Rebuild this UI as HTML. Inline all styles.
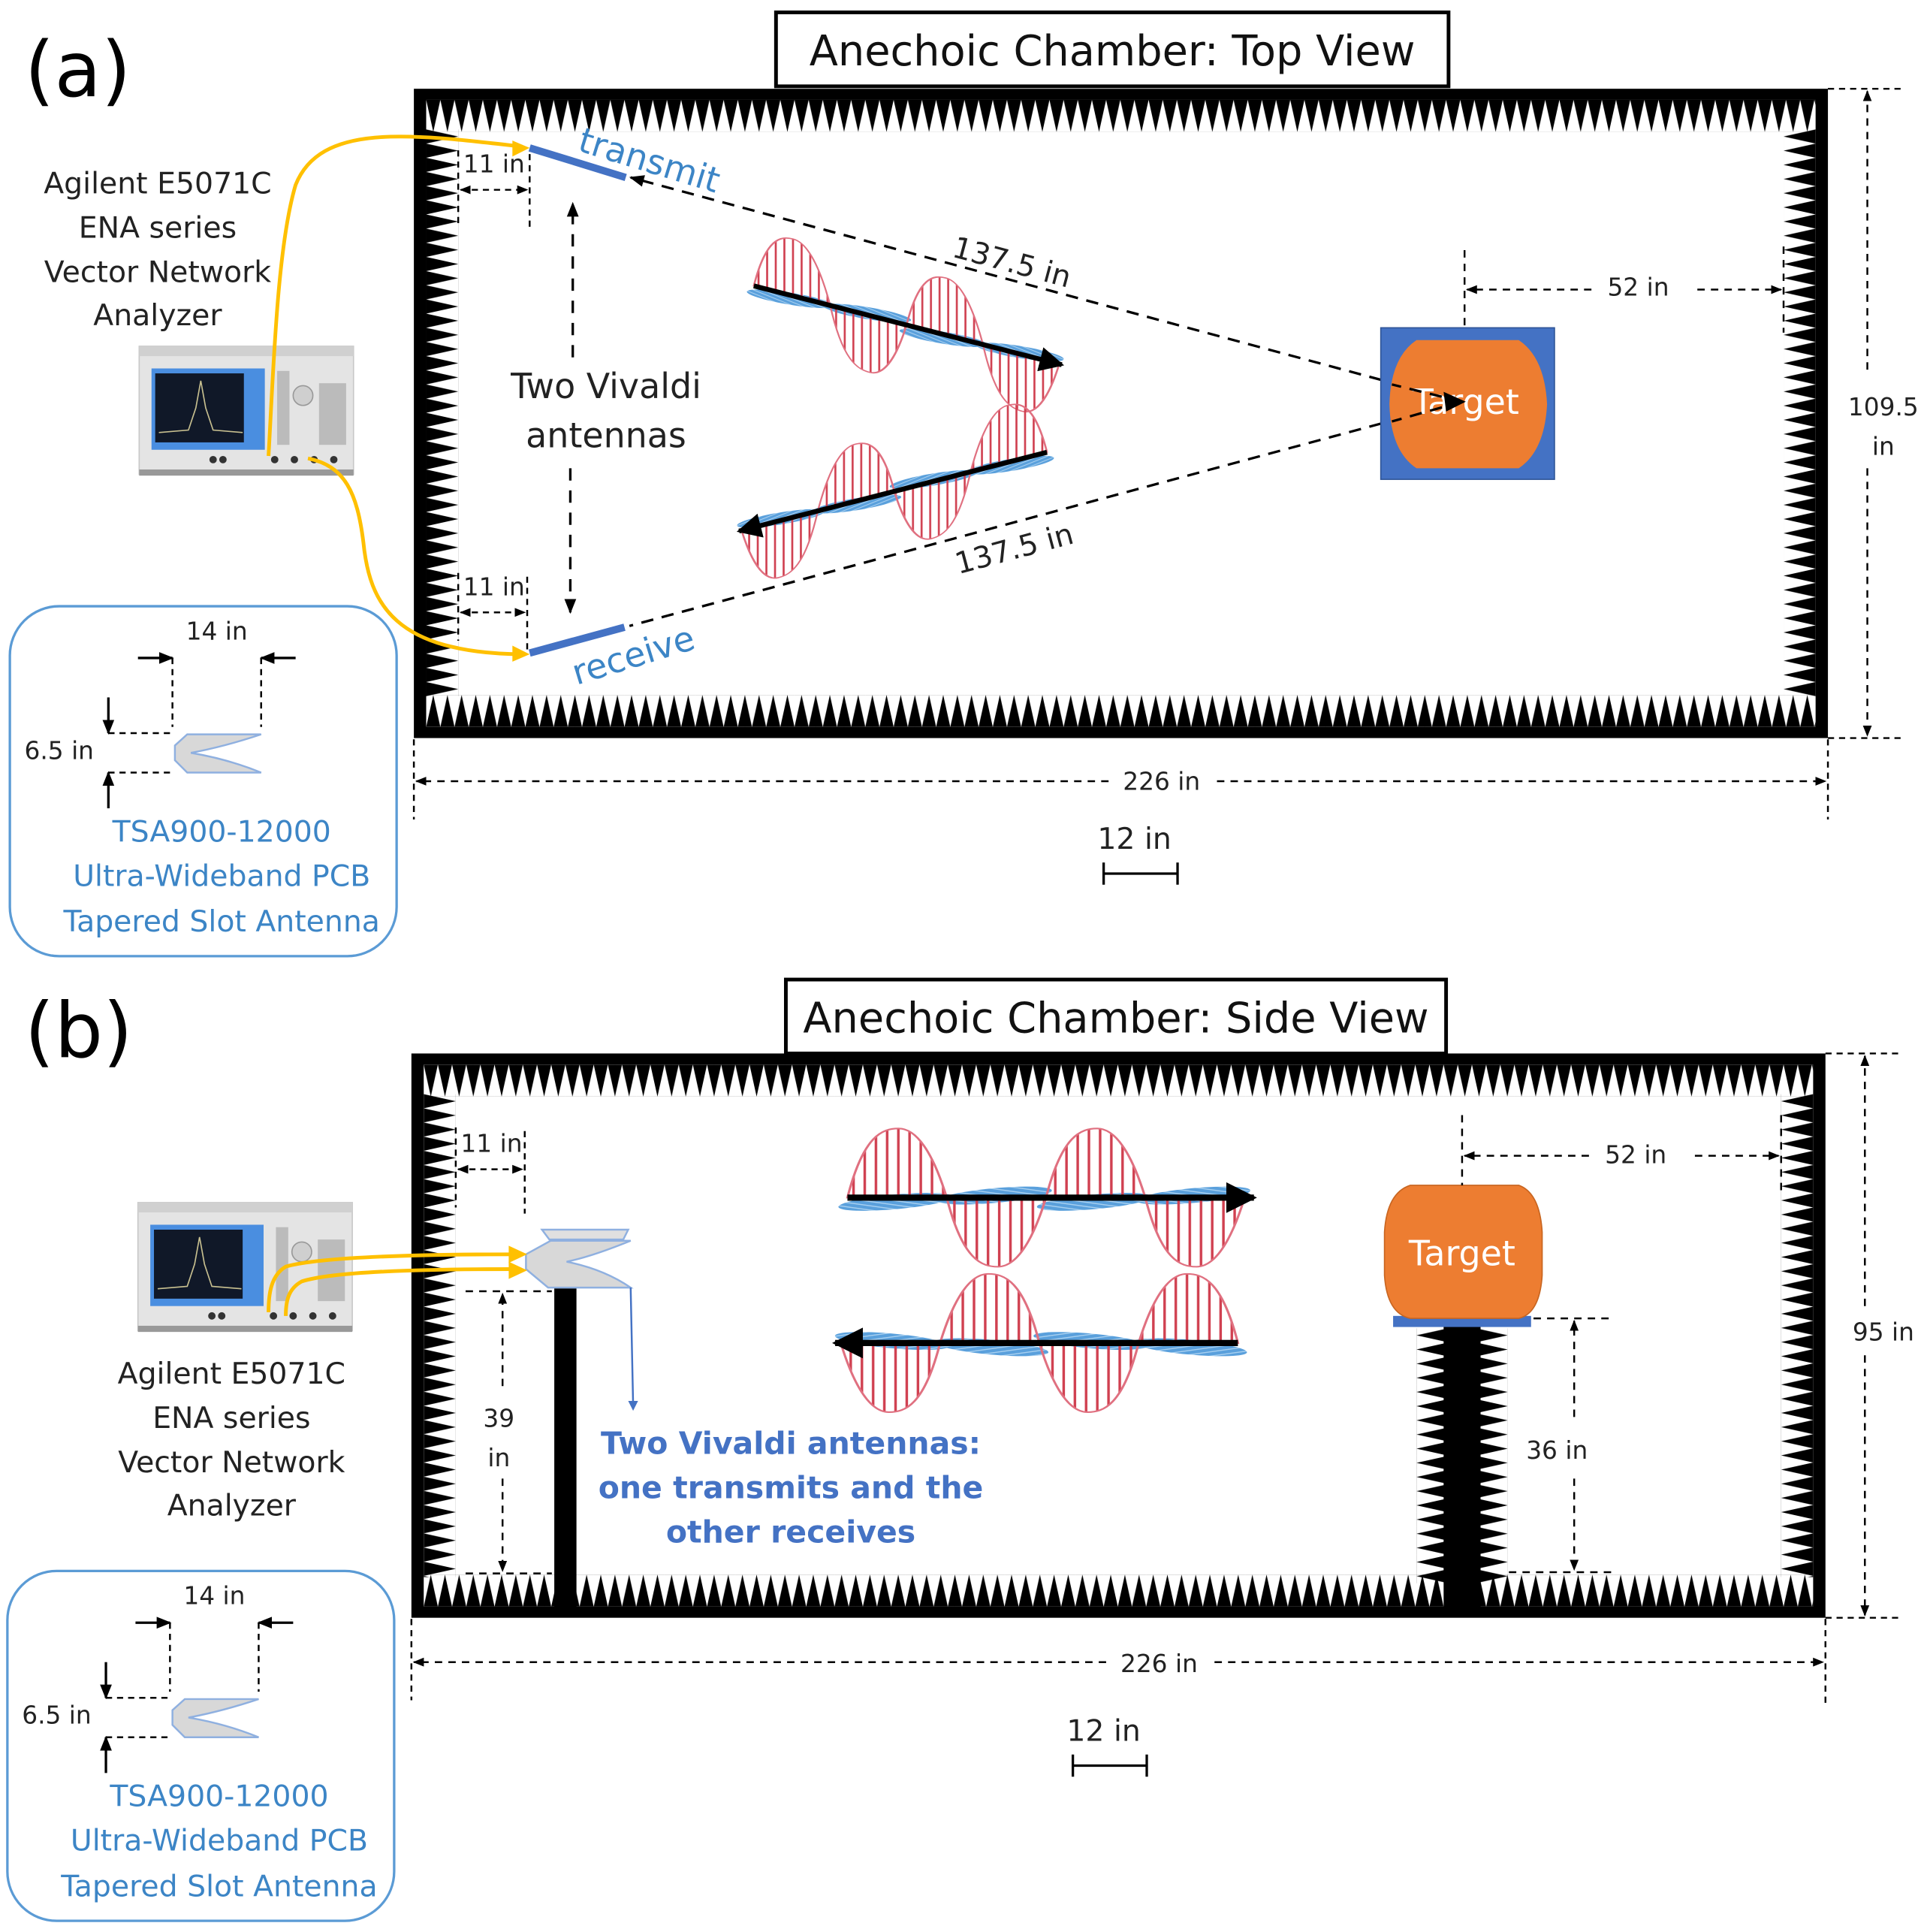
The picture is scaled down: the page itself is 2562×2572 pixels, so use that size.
<!DOCTYPE html>
<html><head><meta charset="utf-8"><style>
html,body{margin:0;padding:0;background:#fff}
svg{display:block}
text{font-family:"DejaVu Sans","Liberation Sans",sans-serif}
</style></head><body>
<svg width="2562" height="2572" viewBox="0 0 1562 1568" xmlns="http://www.w3.org/2000/svg">
<defs>
<pattern id="tTop" width="11.5" height="26" patternUnits="userSpaceOnUse"><path d="M0 0 L11.5 0 L5.75 26 Z" fill="#000"/></pattern>
<pattern id="tBot" width="11.5" height="26" patternUnits="userSpaceOnUse"><path d="M0 26 L11.5 26 L5.75 0 Z" fill="#000"/></pattern>
<pattern id="tLeft" width="26" height="11.5" patternUnits="userSpaceOnUse"><path d="M0 0 L0 11.5 L26 5.75 Z" fill="#000"/></pattern>
<pattern id="tRight" width="26" height="11.5" patternUnits="userSpaceOnUse"><path d="M26 0 L26 11.5 L0 5.75 Z" fill="#000"/></pattern>
<pattern id="hatchR" width="7" height="10" patternUnits="userSpaceOnUse"><rect x="3" y="0" width="1.6" height="10" fill="#d04050"/></pattern>
<pattern id="hatchB" width="4" height="4" patternUnits="userSpaceOnUse" patternTransform="rotate(20)"><rect width="4" height="4" fill="#5aa0dc"/><rect y="0" width="4" height="1" fill="#a8d0f0"/></pattern>
<marker id="ah" viewBox="0 0 10 10" refX="9" refY="5" markerWidth="6" markerHeight="6" orient="auto-start-reverse"><path d="M0 1 L10 5 L0 9 Z" fill="#000"/></marker>
<marker id="bigA" viewBox="0 0 10 10" refX="9" refY="5" markerWidth="5" markerHeight="5" orient="auto"><path d="M0 0 L10 5 L0 10 Z" fill="#000"/></marker>
<g id="wave">
  <ellipse cx="30" cy="4" rx="36" ry="7" fill="url(#hatchB)" transform="rotate(-8 30 4)"/>
  <ellipse cx="92" cy="-2" rx="36" ry="7" fill="url(#hatchB)" transform="rotate(-8 92 -2)"/>
  <ellipse cx="154" cy="4" rx="36" ry="7" fill="url(#hatchB)" transform="rotate(-8 154 4)"/>
  <ellipse cx="216" cy="-2" rx="36" ry="7" fill="url(#hatchB)" transform="rotate(-8 216 -2)"/>
  <path d="M0 0 C10 -60 22 -66 32 -66 C46 -66 56 -30 62 0 Z" fill="url(#hatchR)" stroke="#e07080" stroke-width="1.5"/>
  <path d="M62 0 C72 60 84 66 94 66 C108 66 118 30 124 0 Z" fill="url(#hatchR)" stroke="#e07080" stroke-width="1.5"/>
  <path d="M124 0 C134 -60 146 -66 156 -66 C170 -66 180 -30 186 0 Z" fill="url(#hatchR)" stroke="#e07080" stroke-width="1.5"/>
  <path d="M186 0 C196 60 208 66 218 66 C232 66 242 30 248 0 Z" fill="url(#hatchR)" stroke="#e07080" stroke-width="1.5"/>
</g>
<g id="inset">
  <rect x="8" y="492" width="314" height="284" rx="40" fill="none" stroke="#5b9bd5" stroke-width="2"/>
  <text x="176" y="519" font-size="20" text-anchor="middle" fill="#222">14 in</text>
  <line x1="112" y1="534" x2="140" y2="534" stroke="#000" stroke-width="2" marker-end="url(#ah)"/>
  <line x1="240" y1="534" x2="212" y2="534" stroke="#000" stroke-width="2" marker-end="url(#ah)"/>
  <line x1="140" y1="534" x2="140" y2="590" stroke="#000" stroke-width="1.5" stroke-dasharray="5,4"/>
  <line x1="212" y1="534" x2="212" y2="590" stroke="#000" stroke-width="1.5" stroke-dasharray="5,4"/>
  <line x1="88" y1="566" x2="88" y2="595" stroke="#000" stroke-width="2" marker-end="url(#ah)"/>
  <line x1="88" y1="656" x2="88" y2="627" stroke="#000" stroke-width="2" marker-end="url(#ah)"/>
  <line x1="88" y1="595" x2="140" y2="595" stroke="#000" stroke-width="1.5" stroke-dasharray="5,4"/>
  <line x1="88" y1="627" x2="140" y2="627" stroke="#000" stroke-width="1.5" stroke-dasharray="5,4"/>
  <text x="48" y="616" font-size="20" text-anchor="middle" fill="#222">6.5 in</text>
  <path d="M152 596 L212 596 Q182 606 155 611 Q185 616 212 627 L152 627 L142 617 L142 605 Z" fill="#d8d8d8" stroke="#8fb0e0" stroke-width="1.5"/>
  <text x="180" y="683" font-size="24" text-anchor="middle" fill="#3c85c6" font-family="Liberation Sans">TSA900-12000</text>
  <text x="180" y="719" font-size="24" text-anchor="middle" fill="#3c85c6" font-family="Liberation Sans">Ultra-Wideband PCB</text>
  <text x="180" y="756" font-size="24" text-anchor="middle" fill="#3c85c6" font-family="Liberation Sans">Tapered Slot Antenna</text>
</g>
<g id="vna">
  <rect x="0" y="0" width="174" height="104" fill="#e4e4e4" stroke="#c8c8c8"/>
  <rect x="0" y="0" width="174" height="8" fill="#d0d0d0"/>
  <rect x="10" y="18" width="92" height="66" fill="#4a8ee0"/>
  <rect x="13" y="22" width="72" height="56" fill="#101828"/>
  <path d="M16 70 L40 68 L46 50 L50 28 L54 50 L60 68 L84 70" stroke="#c8c090" stroke-width="1" fill="none"/>
  <circle cx="133" cy="40" r="8" fill="#cfcfcf" stroke="#999"/>
  <g fill="#bbb"><rect x="112" y="20" width="10" height="60"/><rect x="146" y="30" width="22" height="50"/></g>
  <g fill="#333"><circle cx="110" cy="92" r="3"/><circle cx="126" cy="92" r="3"/><circle cx="142" cy="92" r="3"/><circle cx="158" cy="92" r="3"/><circle cx="60" cy="92" r="3"/><circle cx="68" cy="92" r="3"/></g>
  <rect x="0" y="100" width="174" height="5" fill="#999"/>
</g>
</defs>

<!-- ===== (a) ===== -->
<text x="20" y="78" font-size="62" fill="#000">(a)</text>
<rect x="630" y="10" width="546" height="60" fill="#fff" stroke="#000" stroke-width="3"/>
<text x="903" y="53" font-size="34" text-anchor="middle" fill="#111">Anechoic Chamber: Top View</text>

<rect x="336" y="72" width="1148" height="527" fill="#000"/>
<rect x="346" y="81" width="1128" height="509" fill="#fff"/>
<g transform="translate(346,81)"><rect width="1128" height="26" fill="url(#tTop)"/></g>
<g transform="translate(346,564)"><rect width="1128" height="26" fill="url(#tBot)"/></g>
<g transform="translate(346,105)"><rect width="26" height="460" fill="url(#tLeft)"/></g>
<g transform="translate(1448,105)"><rect width="26" height="460" fill="url(#tRight)"/></g>

<text x="376" y="140" font-size="20" fill="#222">11 in</text>
<line x1="372" y1="122" x2="372" y2="185" stroke="#000" stroke-width="1.5" stroke-dasharray="5,4"/>
<line x1="430" y1="125" x2="430" y2="188" stroke="#000" stroke-width="1.5" stroke-dasharray="5,4"/>
<line x1="374" y1="154" x2="428" y2="154" stroke="#000" stroke-width="1.5" stroke-dasharray="5,4" marker-start="url(#ah)" marker-end="url(#ah)"/>
<text x="376" y="483" font-size="20" fill="#222">11 in</text>
<line x1="372" y1="465" x2="372" y2="520" stroke="#000" stroke-width="1.5" stroke-dasharray="5,4"/>
<line x1="428" y1="468" x2="428" y2="530" stroke="#000" stroke-width="1.5" stroke-dasharray="5,4"/>
<line x1="374" y1="497" x2="426" y2="497" stroke="#000" stroke-width="1.5" stroke-dasharray="5,4" marker-start="url(#ah)" marker-end="url(#ah)"/>

<line x1="430" y1="120" x2="508" y2="144" stroke="#4472c4" stroke-width="6"/>
<line x1="430" y1="530" x2="507" y2="509" stroke="#4472c4" stroke-width="6"/>
<text x="0" y="0" font-size="28" fill="#3c85c6" transform="translate(468,122) rotate(17)">transmit</text>
<text x="0" y="0" font-size="28" fill="#3c85c6" transform="translate(468,556) rotate(-17)">receive</text>

<text x="128" y="157" font-size="24" text-anchor="middle" fill="#222">Agilent E5071C</text>
<text x="128" y="193" font-size="24" text-anchor="middle" fill="#222">ENA series</text>
<text x="128" y="229" font-size="24" text-anchor="middle" fill="#222">Vector Network</text>
<text x="128" y="264" font-size="24" text-anchor="middle" fill="#222">Analyzer</text>
<use href="#vna" x="113" y="281"/>
<path d="M424 119 C330 108 260 100 240 150 C225 200 222 300 218 370" fill="none" stroke="#ffc000" stroke-width="3"/>
<path d="M424 531 C320 530 300 490 295 440 C290 400 280 378 250 372" fill="none" stroke="#ffc000" stroke-width="3"/>
<path d="M416 114 L430 120 L416 127 Z" fill="#ffc000"/>
<path d="M416 524 L430 531 L416 537 Z" fill="#ffc000"/>

<line x1="465" y1="290" x2="465" y2="165" stroke="#000" stroke-width="2" stroke-dasharray="10,8" marker-end="url(#ah)"/>
<line x1="463" y1="380" x2="463" y2="497" stroke="#000" stroke-width="2" stroke-dasharray="10,8" marker-end="url(#ah)"/>
<text x="492" y="323" font-size="28" text-anchor="middle" fill="#222">Two Vivaldi</text>
<text x="492" y="363" font-size="28" text-anchor="middle" fill="#222">antennas</text>

<line x1="1187" y1="326" x2="512" y2="144" stroke="#000" stroke-width="2" stroke-dasharray="10,7" marker-end="url(#ah)"/>
<text x="0" y="0" font-size="24" fill="#222" transform="translate(772,208) rotate(15)">137.5 in</text>
<line x1="1187" y1="326" x2="511" y2="508" stroke="#000" stroke-width="2" stroke-dasharray="10,7"/>
<text x="0" y="0" font-size="24" fill="#222" transform="translate(778,466) rotate(-15)">137.5 in</text>

<g transform="matrix(1,0.255,0,0.7,612,232)"><use href="#wave"/></g>
<line x1="612" y1="232" x2="862" y2="296" stroke="#000" stroke-width="4" marker-end="url(#bigA)"/>
<g transform="matrix(-1,0.255,0,0.7,850,367)"><use href="#wave"/></g>
<line x1="850" y1="367" x2="600" y2="431" stroke="#000" stroke-width="4" marker-end="url(#bigA)"/>

<rect x="1121" y="266" width="141" height="123" fill="#4472c4" stroke="#2f5597"/>
<path d="M1150 276 L1233 276 Q1254 290 1256 328 Q1254 366 1233 380 L1150 380 Q1129 366 1128 328 Q1129 290 1150 276 Z" fill="#ed7d31"/>
<text x="1190" y="336" font-size="28" text-anchor="middle" fill="#fff" font-family="Liberation Sans">Target</text>
<line x1="1187" y1="326" x2="1130" y2="312" stroke="#000" stroke-width="2" stroke-dasharray="10,7"/>
<line x1="1187" y1="326" x2="1130" y2="342" stroke="#000" stroke-width="2" stroke-dasharray="10,7"/>
<path d="M1190 326 L1172 318 L1174 334 Z" fill="#000"/>

<line x1="1189" y1="203" x2="1189" y2="265" stroke="#000" stroke-width="1.5" stroke-dasharray="6,5"/>
<line x1="1448" y1="200" x2="1448" y2="270" stroke="#000" stroke-width="1.5" stroke-dasharray="6,5"/>
<line x1="1292" y1="235" x2="1191" y2="235" stroke="#000" stroke-width="1.5" stroke-dasharray="6,5" marker-end="url(#ah)"/>
<line x1="1378" y1="235" x2="1446" y2="235" stroke="#000" stroke-width="1.5" stroke-dasharray="6,5" marker-end="url(#ah)"/>
<text x="1330" y="240" font-size="20" text-anchor="middle" fill="#222">52 in</text>

<line x1="1484" y1="72" x2="1545" y2="72" stroke="#000" stroke-width="1.5" stroke-dasharray="5,4"/>
<line x1="1484" y1="599" x2="1545" y2="599" stroke="#000" stroke-width="1.5" stroke-dasharray="5,4"/>
<line x1="1516" y1="300" x2="1516" y2="74" stroke="#000" stroke-width="1.5" stroke-dasharray="6,5" marker-end="url(#ah)"/>
<line x1="1516" y1="380" x2="1516" y2="597" stroke="#000" stroke-width="1.5" stroke-dasharray="6,5" marker-end="url(#ah)"/>
<text x="1529" y="337" font-size="20" text-anchor="middle" fill="#222">109.5</text>
<text x="1529" y="369" font-size="20" text-anchor="middle" fill="#222">in</text>

<line x1="336" y1="600" x2="336" y2="665" stroke="#000" stroke-width="1.5" stroke-dasharray="5,4"/>
<line x1="1484" y1="600" x2="1484" y2="665" stroke="#000" stroke-width="1.5" stroke-dasharray="5,4"/>
<line x1="900" y1="634" x2="338" y2="634" stroke="#000" stroke-width="1.5" stroke-dasharray="6,5" marker-end="url(#ah)"/>
<line x1="988" y1="634" x2="1482" y2="634" stroke="#000" stroke-width="1.5" stroke-dasharray="6,5" marker-end="url(#ah)"/>
<text x="943" y="641" font-size="20" text-anchor="middle" fill="#222">226 in</text>
<text x="921" y="689" font-size="24" text-anchor="middle" fill="#222">12 in</text>
<path d="M896 700 V718 M896 709 H956 M956 700 V718" stroke="#000" stroke-width="2" fill="none"/>

<use href="#inset"/>

<!-- ===== (b) ===== -->
<text x="20" y="858" font-size="62" fill="#000">(b)</text>
<rect x="638" y="795" width="536" height="60" fill="#fff" stroke="#000" stroke-width="3"/>
<text x="906" y="838" font-size="34" text-anchor="middle" fill="#111">Anechoic Chamber: Side View</text>

<rect x="334" y="855" width="1148" height="458" fill="#000"/>
<rect x="344" y="864" width="1128" height="440" fill="#fff"/>
<g transform="translate(344,864)"><rect width="1128" height="26" fill="url(#tTop)"/></g>
<g transform="translate(344,1278)"><rect width="1128" height="26" fill="url(#tBot)"/></g>
<g transform="translate(344,888)"><rect width="26" height="392" fill="url(#tLeft)"/></g>
<g transform="translate(1446,888)"><rect width="26" height="392" fill="url(#tRight)"/></g>

<rect x="450" y="1045" width="18" height="260" fill="#000"/>
<rect x="1172" y="1075" width="30" height="230" fill="#000"/>
<g transform="translate(1150,1078)"><rect width="26" height="207" fill="url(#tRight)"/></g>
<g transform="translate(1198,1078)"><rect width="26" height="207" fill="url(#tLeft)"/></g>
<rect x="1131" y="1068" width="112" height="9" fill="#4472c4"/>
<path d="M1145 962 L1233 962 Q1250 968 1252 1000 L1252 1035 Q1250 1066 1233 1070 L1145 1070 Q1126 1066 1124 1035 L1124 1000 Q1126 968 1145 962 Z" fill="#ed7d31" stroke="#c86520"/>
<text x="1187" y="1027" font-size="28" text-anchor="middle" fill="#fff" font-family="Liberation Sans">Target</text>

<text x="374" y="935" font-size="20" fill="#222">11 in</text>
<line x1="370" y1="915" x2="370" y2="980" stroke="#000" stroke-width="1.5" stroke-dasharray="5,4"/>
<line x1="426" y1="918" x2="426" y2="985" stroke="#000" stroke-width="1.5" stroke-dasharray="5,4"/>
<line x1="372" y1="949" x2="424" y2="949" stroke="#000" stroke-width="1.5" stroke-dasharray="5,4" marker-start="url(#ah)" marker-end="url(#ah)"/>

<path d="M440 998 L510 998 L506 1006 L446 1006 Z" fill="#e0e0e0" stroke="#8fb0e0" stroke-width="1.5"/>
<path d="M447 1007 L512 1007 Q480 1020 460 1024 Q490 1030 512 1045 L445 1045 L427 1030 L427 1018 Z" fill="#d8d8d8" stroke="#8fb0e0" stroke-width="1.5"/>
<path d="M512 1045 L514 1140" stroke="#4472c4" stroke-width="1.5"/>
<path d="M510 1137 L514 1145 L518 1137 Z" fill="#4472c4"/>

<use href="#vna" x="112" y="976"/>
<path d="M420 1018 C340 1018 260 1020 232 1028 C220 1035 218 1050 218 1065" fill="none" stroke="#ffc000" stroke-width="3"/>
<path d="M420 1030 C340 1030 270 1032 245 1040 C234 1046 232 1056 232 1068" fill="none" stroke="#ffc000" stroke-width="3"/>
<path d="M413 1011 L428 1018 L413 1025 Z" fill="#ffc000"/>
<path d="M413 1024 L428 1031 L413 1038 Z" fill="#ffc000"/>
<text x="188" y="1123" font-size="24" text-anchor="middle" fill="#222">Agilent E5071C</text>
<text x="188" y="1159" font-size="24" text-anchor="middle" fill="#222">ENA series</text>
<text x="188" y="1195" font-size="24" text-anchor="middle" fill="#222">Vector Network</text>
<text x="188" y="1230" font-size="24" text-anchor="middle" fill="#222">Analyzer</text>

<line x1="378" y1="1048" x2="448" y2="1048" stroke="#000" stroke-width="1.5" stroke-dasharray="6,5"/>
<line x1="378" y1="1277" x2="448" y2="1277" stroke="#000" stroke-width="1.5" stroke-dasharray="6,5"/>
<line x1="408" y1="1125" x2="408" y2="1050" stroke="#000" stroke-width="1.5" stroke-dasharray="6,5" marker-end="url(#ah)"/>
<line x1="408" y1="1200" x2="408" y2="1275" stroke="#000" stroke-width="1.5" stroke-dasharray="6,5" marker-end="url(#ah)"/>
<text x="405" y="1158" font-size="20" text-anchor="middle" fill="#222">39</text>
<text x="405" y="1190" font-size="20" text-anchor="middle" fill="#222">in</text>

<text x="642" y="1180" font-size="25" font-weight="bold" text-anchor="middle" fill="#4472c4" font-family="Liberation Sans">Two Vivaldi antennas:</text>
<text x="642" y="1216" font-size="25" font-weight="bold" text-anchor="middle" fill="#4472c4" font-family="Liberation Sans">one transmits and the</text>
<text x="642" y="1252" font-size="25" font-weight="bold" text-anchor="middle" fill="#4472c4" font-family="Liberation Sans">other receives</text>

<g transform="translate(688,972) scale(1.3,0.85)"><use href="#wave"/></g>
<line x1="688" y1="972" x2="1018" y2="972" stroke="#000" stroke-width="5" marker-end="url(#bigA)"/>
<g transform="translate(1005,1090) scale(-1.3,0.85)"><use href="#wave"/></g>
<line x1="1005" y1="1090" x2="678" y2="1090" stroke="#000" stroke-width="5" marker-end="url(#bigA)"/>

<line x1="1187" y1="905" x2="1187" y2="962" stroke="#000" stroke-width="1.5" stroke-dasharray="6,5"/>
<line x1="1446" y1="905" x2="1446" y2="970" stroke="#000" stroke-width="1.5" stroke-dasharray="6,5"/>
<line x1="1290" y1="938" x2="1189" y2="938" stroke="#000" stroke-width="1.5" stroke-dasharray="6,5" marker-end="url(#ah)"/>
<line x1="1376" y1="938" x2="1444" y2="938" stroke="#000" stroke-width="1.5" stroke-dasharray="6,5" marker-end="url(#ah)"/>
<text x="1328" y="944" font-size="20" text-anchor="middle" fill="#222">52 in</text>

<line x1="1245" y1="1070" x2="1310" y2="1070" stroke="#000" stroke-width="1.5" stroke-dasharray="6,5"/>
<line x1="1225" y1="1276" x2="1310" y2="1276" stroke="#000" stroke-width="1.5" stroke-dasharray="6,5"/>
<line x1="1278" y1="1150" x2="1278" y2="1072" stroke="#000" stroke-width="1.5" stroke-dasharray="6,5" marker-end="url(#ah)"/>
<line x1="1278" y1="1200" x2="1278" y2="1274" stroke="#000" stroke-width="1.5" stroke-dasharray="6,5" marker-end="url(#ah)"/>
<text x="1264" y="1184" font-size="20" text-anchor="middle" fill="#222">36 in</text>

<line x1="1482" y1="855" x2="1545" y2="855" stroke="#000" stroke-width="1.5" stroke-dasharray="5,4"/>
<line x1="1482" y1="1313" x2="1545" y2="1313" stroke="#000" stroke-width="1.5" stroke-dasharray="5,4"/>
<line x1="1514" y1="1060" x2="1514" y2="857" stroke="#000" stroke-width="1.5" stroke-dasharray="6,5" marker-end="url(#ah)"/>
<line x1="1514" y1="1100" x2="1514" y2="1311" stroke="#000" stroke-width="1.5" stroke-dasharray="6,5" marker-end="url(#ah)"/>
<text x="1529" y="1088" font-size="20" text-anchor="middle" fill="#222">95 in</text>

<line x1="334" y1="1314" x2="334" y2="1380" stroke="#000" stroke-width="1.5" stroke-dasharray="5,4"/>
<line x1="1482" y1="1314" x2="1482" y2="1382" stroke="#000" stroke-width="1.5" stroke-dasharray="5,4"/>
<line x1="898" y1="1349" x2="336" y2="1349" stroke="#000" stroke-width="1.5" stroke-dasharray="6,5" marker-end="url(#ah)"/>
<line x1="986" y1="1349" x2="1480" y2="1349" stroke="#000" stroke-width="1.5" stroke-dasharray="6,5" marker-end="url(#ah)"/>
<text x="941" y="1357" font-size="20" text-anchor="middle" fill="#222">226 in</text>
<text x="896" y="1413" font-size="24" text-anchor="middle" fill="#222">12 in</text>
<path d="M871 1424 V1442 M871 1433 H931 M931 1424 V1442" stroke="#000" stroke-width="2" fill="none"/>

<use href="#inset" x="-2" y="783"/>
</svg>
</body></html>
